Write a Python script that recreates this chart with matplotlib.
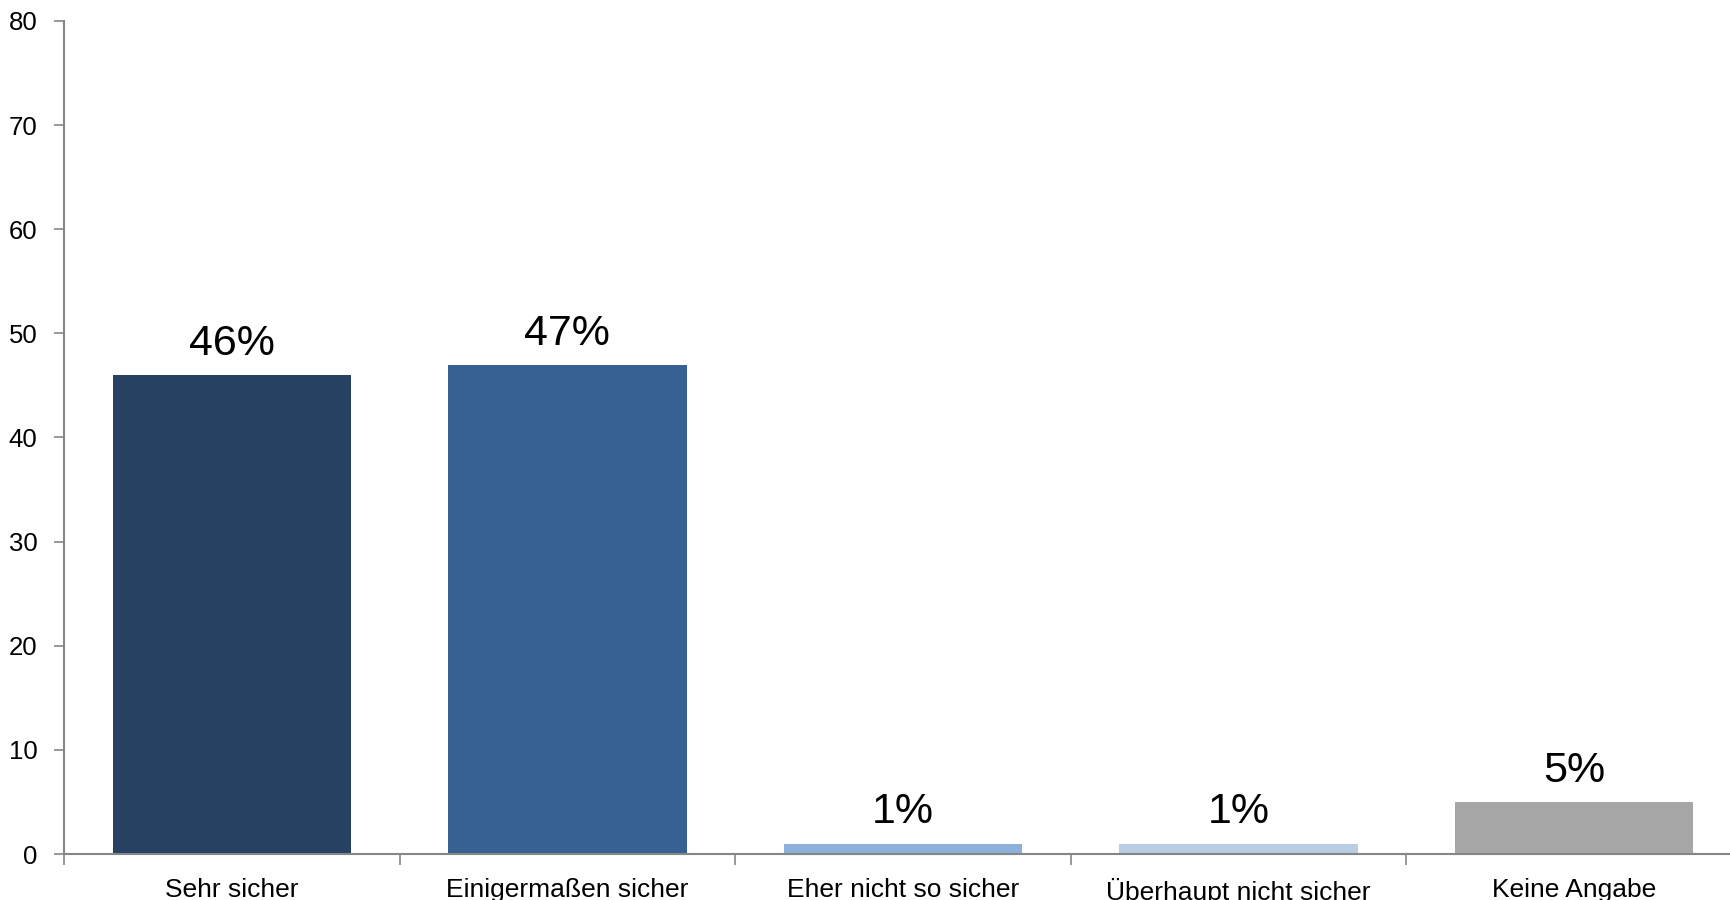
import matplotlib
matplotlib.use("Agg")
import matplotlib.pyplot as plt

categories = ["Sehr sicher", "Einigermaßen sicher", "Eher nicht so sicher",
              "Überhaupt nicht sicher", "Keine Angabe"]
values = [46, 47, 1, 1, 5]
labels = ["46%", "47%", "1%", "1%", "5%"]
colors = ["#264161", "#376190", "#8DB1DA", "#B9CDE5", "#A6A6A6"]

plt.rcParams['font.family'] = ['Liberation Sans', 'DejaVu Sans']

fig = plt.figure(figsize=(17.31, 9.0), dpi=100)
ax = fig.add_axes([64 / 1731, 46 / 900, 1678 / 1731, 833 / 900])

index = range(len(categories))
bars = ax.bar(index, values, width=0.71, color=colors)

for bar, txt in zip(bars, labels):
    ax.annotate(txt, (bar.get_x() + bar.get_width() / 2, bar.get_height()),
                xytext=(0, 8), textcoords='offset points',
                ha='center', va='bottom', fontsize=31, color='black')

ax.set_xlim(-0.5, len(categories) - 0.5)
ax.set_ylim(0, 80)
ax.set_yticks(range(0, 81, 10))
ax.tick_params(axis='y', labelsize=18.5, length=7, width=1.2, color='#868686', pad=12)

# category labels centered, ticks at the boundaries
ax.set_xticks(list(index))
ax.set_xticklabels(categories, fontsize=19)
ax.tick_params(axis='x', which='major', length=0, pad=17)
ax.set_xticks([i - 0.5 for i in range(len(categories) + 1)], minor=True)
ax.tick_params(axis='x', which='minor', length=8, width=1.2, color='#868686')

for side in ['top', 'right']:
    ax.spines[side].set_visible(False)
for side in ['left', 'bottom']:
    ax.spines[side].set_color('#868686')
    ax.spines[side].set_linewidth(1.5)

fig.savefig("out.png", dpi=100)
